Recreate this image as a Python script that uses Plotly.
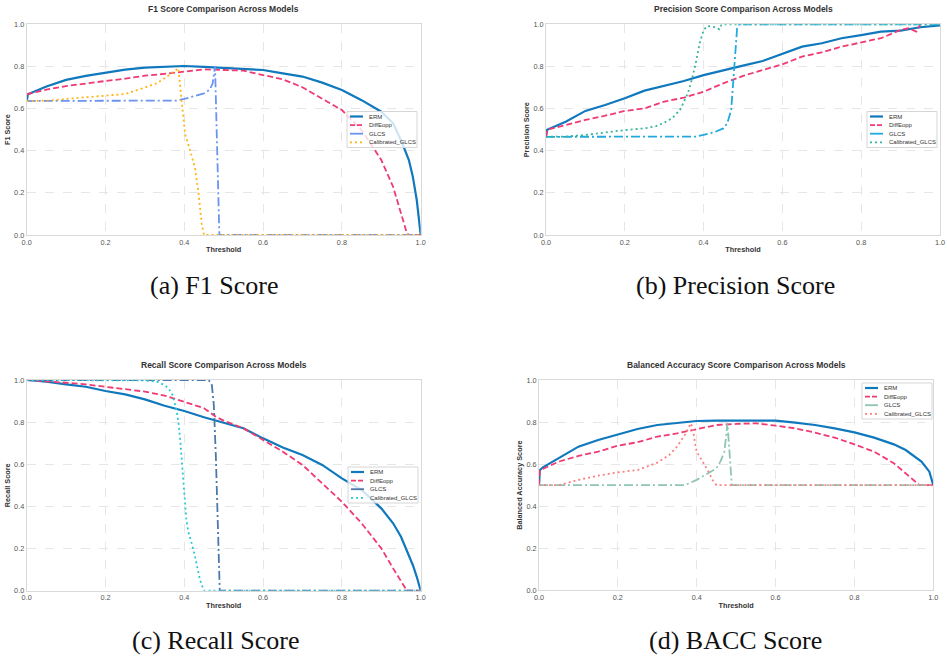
import plotly.graph_objects as go

# ---------------- data ----------------
models = ["ERM", "DiffEopp", "GLCS", "Calibrated_GLCS"]
ticks = [0.0, 0.2, 0.4, 0.6, 0.8, 1.0]
tick_labels = ["0.0", "0.2", "0.4", "0.6", "0.8", "1.0"]

# F1
f1_erm_t = [0, 0.003, 0.05, 0.1, 0.15, 0.2, 0.25, 0.3, 0.35, 0.4, 0.45, 0.5, 0.55, 0.6, 0.65, 0.7, 0.75, 0.8, 0.85, 0.9, 0.93, 0.95, 0.97, 0.98, 0.99, 1.0]
f1_erm_v = [0.635, 0.668, 0.705, 0.736, 0.755, 0.771, 0.785, 0.794, 0.797, 0.802, 0.798, 0.794, 0.788, 0.783, 0.767, 0.752, 0.723, 0.688, 0.64, 0.585, 0.53, 0.45, 0.356, 0.277, 0.166, 0.0]
f1_dif_t = [0, 0.05, 0.1, 0.15, 0.2, 0.25, 0.3, 0.35, 0.4, 0.45, 0.5, 0.55, 0.6, 0.65, 0.7, 0.75, 0.8, 0.85, 0.9, 0.93, 0.95, 0.965, 0.97, 1.0]
f1_dif_v = [0.668, 0.69, 0.707, 0.72, 0.731, 0.742, 0.756, 0.765, 0.775, 0.786, 0.783, 0.78, 0.759, 0.739, 0.701, 0.649, 0.593, 0.498, 0.356, 0.229, 0.103, 0.008, 0.0, 0.0]
f1_glcs_t = [0, 0.38, 0.4, 0.43, 0.45, 0.465, 0.472, 0.478, 0.489, 1.0]
f1_glcs_v = [0.636, 0.638, 0.646, 0.66, 0.672, 0.69, 0.72, 0.8, 0.0, 0.0]
f1_cal_t = [0, 0.06, 0.1, 0.15, 0.2, 0.25, 0.3, 0.33, 0.35, 0.37, 0.385, 0.393, 0.402, 0.415, 0.427, 0.436, 0.444, 0.45, 1.0]
f1_cal_v = [0.636, 0.638, 0.646, 0.653, 0.661, 0.669, 0.70, 0.72, 0.744, 0.771, 0.791, 0.64, 0.48, 0.40, 0.32, 0.20, 0.055, 0.0, 0.0]

# Precision
pr_erm_t = [0, 0.003, 0.05, 0.1, 0.15, 0.2, 0.25, 0.3, 0.35, 0.4, 0.45, 0.5, 0.55, 0.6, 0.65, 0.7, 0.75, 0.8, 0.85, 0.9, 0.95, 1.0]
pr_erm_v = [0.466, 0.5, 0.538, 0.589, 0.617, 0.649, 0.685, 0.707, 0.731, 0.759, 0.78, 0.804, 0.826, 0.859, 0.894, 0.91, 0.934, 0.949, 0.965, 0.97, 0.986, 0.995]
pr_dif_t = [0, 0.003, 0.05, 0.1, 0.15, 0.2, 0.25, 0.3, 0.35, 0.4, 0.45, 0.5, 0.55, 0.6, 0.65, 0.7, 0.75, 0.8, 0.85, 0.88, 0.9, 0.92, 0.94, 0.95]
pr_dif_v = [0.466, 0.5, 0.522, 0.546, 0.566, 0.589, 0.601, 0.633, 0.652, 0.68, 0.72, 0.755, 0.783, 0.81, 0.847, 0.867, 0.894, 0.913, 0.934, 0.957, 0.973, 0.981, 0.965, 1.0]
pr_glcs_t = [0, 0.38, 0.4, 0.43, 0.45, 0.46, 0.47, 0.475, 0.48, 0.485, 0.49, 1.0]
pr_glcs_v = [0.466, 0.467, 0.475, 0.49, 0.506, 0.53, 0.593, 0.72, 0.878, 0.98, 1.0, 1.0]
pr_cal_t = [0, 0.05, 0.1, 0.15, 0.2, 0.25, 0.28, 0.3, 0.32, 0.34, 0.36, 0.37, 0.38, 0.39, 0.4, 0.41, 0.42, 0.43, 0.44, 0.445, 0.45, 1.0]
pr_cal_v = [0.466, 0.467, 0.475, 0.487, 0.498, 0.506, 0.517, 0.533, 0.554, 0.593, 0.672, 0.736, 0.815, 0.91, 0.973, 0.992, 0.989, 0.986, 0.976, 0.997, 1.0, 1.0]

# Recall
rc_erm_t = [0, 0.05, 0.1, 0.15, 0.2, 0.25, 0.3, 0.35, 0.4, 0.45, 0.5, 0.55, 0.6, 0.65, 0.7, 0.75, 0.8, 0.85, 0.9, 0.93, 0.95, 0.97, 0.98, 0.99, 1.0]
rc_erm_v = [1.0, 0.992, 0.979, 0.968, 0.948, 0.932, 0.908, 0.878, 0.853, 0.823, 0.797, 0.771, 0.723, 0.68, 0.644, 0.597, 0.533, 0.478, 0.391, 0.32, 0.256, 0.169, 0.122, 0.066, 0.0]
rc_dif_t = [0, 0.05, 0.1, 0.15, 0.2, 0.25, 0.3, 0.35, 0.4, 0.45, 0.48, 0.5, 0.55, 0.6, 0.65, 0.7, 0.75, 0.8, 0.85, 0.9, 0.93, 0.95, 0.965, 1.0]
rc_dif_v = [1.0, 0.995, 0.987, 0.979, 0.968, 0.957, 0.945, 0.926, 0.897, 0.866, 0.826, 0.807, 0.771, 0.715, 0.66, 0.597, 0.509, 0.422, 0.32, 0.201, 0.106, 0.043, 0.0, 0.0]
rc_glcs_t = [0, 0.462, 0.47, 0.475, 0.48, 0.485, 0.49, 1.0]
rc_glcs_v = [1.0, 1.0, 0.976, 0.88, 0.644, 0.33, 0.0, 0.0]
rc_cal_t = [0, 0.3, 0.33, 0.35, 0.36, 0.37, 0.38, 0.385, 0.39, 0.395, 0.4, 0.405, 0.41, 0.42, 0.43, 0.44, 0.45, 1.0]
rc_cal_v = [1.0, 0.998, 0.992, 0.976, 0.96, 0.929, 0.858, 0.802, 0.707, 0.597, 0.454, 0.343, 0.28, 0.217, 0.138, 0.05, 0.0, 0.0]

# Balanced accuracy
ba_erm_t = [0, 0.002, 0.01, 0.05, 0.1, 0.15, 0.2, 0.25, 0.3, 0.35, 0.4, 0.45, 0.5, 0.55, 0.6, 0.65, 0.7, 0.75, 0.8, 0.85, 0.9, 0.93, 0.95, 0.97, 0.98, 0.99, 1.0]
ba_erm_v = [0.5, 0.571, 0.585, 0.628, 0.683, 0.715, 0.742, 0.767, 0.786, 0.794, 0.805, 0.807, 0.808, 0.807, 0.807, 0.797, 0.786, 0.77, 0.751, 0.726, 0.694, 0.667, 0.64, 0.612, 0.588, 0.564, 0.5]
ba_dif_t = [0, 0.002, 0.05, 0.1, 0.15, 0.2, 0.25, 0.3, 0.35, 0.4, 0.45, 0.5, 0.55, 0.6, 0.65, 0.7, 0.75, 0.8, 0.85, 0.9, 0.93, 0.95, 0.965, 1.0]
ba_dif_v = [0.5, 0.57, 0.612, 0.639, 0.659, 0.688, 0.704, 0.731, 0.746, 0.767, 0.786, 0.791, 0.794, 0.783, 0.77, 0.75, 0.726, 0.694, 0.659, 0.604, 0.556, 0.52, 0.5, 0.5]
ba_glcs_t = [0, 0.37, 0.4, 0.43, 0.45, 0.46, 0.47, 0.475, 0.478, 0.489, 1.0]
ba_glcs_v = [0.5, 0.5, 0.525, 0.556, 0.58, 0.612, 0.659, 0.739, 0.794, 0.5, 0.5]
ba_cal_t = [0, 0.05, 0.1, 0.15, 0.2, 0.25, 0.3, 0.33, 0.35, 0.37, 0.385, 0.39, 0.395, 0.4, 0.41, 0.42, 0.43, 0.44, 0.45, 1.0]
ba_cal_v = [0.5, 0.5, 0.525, 0.545, 0.561, 0.572, 0.607, 0.643, 0.683, 0.739, 0.794, 0.77, 0.707, 0.659, 0.628, 0.596, 0.564, 0.525, 0.5, 0.5]

panels = [
    dict(title="F1 Score Comparison Across Models", ylabel="F1 Score", caption="(a) F1 Score",
         series=[(f1_erm_t, f1_erm_v), (f1_dif_t, f1_dif_v), (f1_glcs_t, f1_glcs_v), (f1_cal_t, f1_cal_v)],
         colors=["#1078bd", "#ef3a72", "#6b93f2", "#ffb414"],
         xdom=(26.7, 420.7), ydom=(24.3, 235.0), leg=(347, 111.5), cap=(214.5, 285)),
    dict(title="Precision Score Comparison Across Models", ylabel="Precision Score", caption="(b) Precision Score",
         series=[(pr_erm_t, pr_erm_v), (pr_dif_t, pr_dif_v), (pr_glcs_t, pr_glcs_v), (pr_cal_t, pr_cal_v)],
         colors=["#1078bd", "#ef3a72", "#22a9dd", "#38b59c"],
         xdom=(546.0, 940.0), ydom=(24.3, 235.0), leg=(867, 111.5), cap=(735, 285)),
    dict(title="Recall Score Comparison Across Models", ylabel="Recall Score", caption="(c) Recall Score",
         series=[(rc_erm_t, rc_erm_v), (rc_dif_t, rc_dif_v), (rc_glcs_t, rc_glcs_v), (rc_cal_t, rc_cal_v)],
         colors=["#1078bd", "#ef3a72", "#4b78aa", "#25c9d6"],
         xdom=(26.7, 420.7), ydom=(380.0, 590.7), leg=(348, 467), cap=(215, 640)),
    dict(title="Balanced Accuracy Score Comparison Across Models", ylabel="Balanced Accuracy Score", caption="(d) BACC Score",
         series=[(ba_erm_t, ba_erm_v), (ba_dif_t, ba_dif_v), (ba_glcs_t, ba_glcs_v), (ba_cal_t, ba_cal_v)],
         colors=["#1078bd", "#ef3a72", "#8fc4b7", "#f7827f"],
         xdom=(539.0, 933.3), ydom=(380.0, 590.3), leg=(862, 383), cap=(735.5, 640)),
]

W, H = 947, 657
styles = [dict(dash="solid", width=2.2), dict(dash="6px,3px", width=1.8),
          dict(dash="9px,3px,2px,3px", width=1.8), dict(dash="2px,3px", width=1.8)]
leg_styles = [dict(dash="solid", width=2.2), dict(dash="5px,2px", width=1.8),
              dict(dash="solid", width=1.8), dict(dash="2px,3px", width=1.8)]

fig = go.Figure()
layout = dict(width=W, height=H, margin=dict(l=0, r=0, t=0, b=0, autoexpand=False),
              paper_bgcolor="white", plot_bgcolor="white", showlegend=False,
              font=dict(family="Liberation Sans, Arial, sans-serif", color="#333"))
annotations = []
shapes = []


def px(x):
    return x / W


def py(y):
    return 1 - y / H


for i, p in enumerate(panels):
    k = "" if i == 0 else str(i + 1)
    xa, ya = "x" + k, "y" + k
    for j, (t, v) in enumerate(p["series"]):
        fig.add_trace(go.Scatter(x=t, y=v, mode="lines", name=models[j],
                                 line=dict(color=p["colors"][j], **styles[j]),
                                 xaxis=xa, yaxis=ya, showlegend=False))
    x0, x1 = p["xdom"]
    y0, y1 = p["ydom"]
    axcommon = dict(range=[0, 1], tickvals=ticks, ticktext=tick_labels, showgrid=True,
                    gridcolor="#e6e6e6", griddash="dash", gridwidth=1, zeroline=False,
                    showline=True, linecolor="#d9d9d9", linewidth=1, mirror=True,
                    ticks="", tickfont=dict(size=7.3, color="#555"), automargin=False,
                    ticklabeloverflow="allow")
    layout["xaxis" + k] = dict(domain=[px(x0), px(x1)], anchor=ya,
                               title=dict(text="<b>Threshold</b>", font=dict(size=7.3, color="#333"), standoff=1),
                               **axcommon)
    layout["yaxis" + k] = dict(domain=[py(y1), py(y0)], anchor=xa,
                               title=dict(text="<b>%s</b>" % p["ylabel"], font=dict(size=7.3, color="#333"), standoff=2),
                               **axcommon)
    # legend (drawn manually to match compact matplotlib legend)
    lx, ly = p["leg"]
    shapes.append(dict(type="rect", xref="paper", yref="paper", x0=px(lx), x1=px(lx + 70),
                       y0=py(ly + 36), y1=py(ly), fillcolor="rgba(255,255,255,0.8)",
                       line=dict(color="#d6d6d6", width=1), layer="above"))
    for j in range(4):
        ry = ly + 5 + j * 8.6
        shapes.append(dict(type="line", xref="paper", yref="paper", x0=px(lx + 3), x1=px(lx + 16),
                           y0=py(ry), y1=py(ry), line=dict(color=p["colors"][j], **leg_styles[j]),
                           layer="above"))
        annotations.append(dict(text=models[j], x=px(lx + 20), y=py(ry), xref="paper", yref="paper",
                                showarrow=False, xanchor="left", yanchor="middle",
                                font=dict(size=6, color="#333")))
    cx = (x0 + x1) / 2
    annotations.append(dict(text="<b>%s</b>" % p["title"], x=px(cx), y=py(y0 - 15),
                            xref="paper", yref="paper", showarrow=False, xanchor="center", yanchor="middle",
                            font=dict(size=8.5, color="#333")))
    cxp, cyp = p["cap"]
    annotations.append(dict(text=p["caption"], x=px(cxp), y=py(cyp),
                            xref="paper", yref="paper", showarrow=False, xanchor="center", yanchor="middle",
                            font=dict(size=26, color="#111", family="Liberation Serif, Times New Roman, serif")))

layout["annotations"] = annotations
layout["shapes"] = shapes
fig.update_layout(**layout)
fig.write_html("out.html", config={"displayModeBar": False},
               post_script="document.body.style.margin='0';document.body.style.overflow='hidden';")
